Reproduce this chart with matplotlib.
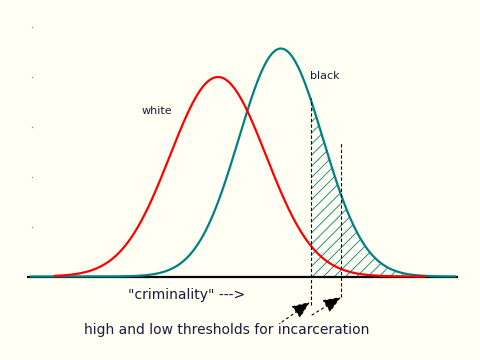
import numpy as np
import matplotlib
matplotlib.use('Agg')
import matplotlib.pyplot as plt

# two normal curves, same area (white: mean 0, sd 1; black shifted right, narrower)
groups = ['white', 'black']
means = [0.0, 1.31]
sds = [1.0, 0.875]
colors = ['#ff0000', '#008080']
x_ranges = [(-3.4, 4.3), (-3.9, 4.94)]
thresholds = [1.94, 2.56]
threshold_tops = [0.357, 0.269]
threshold_bottoms = [-0.057, -0.041]
y_dots = [0.1, 0.2, 0.3, 0.4, 0.5]

BG = '#fffff4'
plt.rcParams['hatch.linewidth'] = 0.6


def pdf(x, m, s):
    return np.exp(-0.5 * ((x - m) / s) ** 2) / (s * np.sqrt(2 * np.pi))


# pixel -> data helpers (baseline at y=276.5 px, 48 px per sd, 500 px per density unit)
def px(x):
    return (x - 218) / 48


def py(y):
    return (276.5 - y) / 500


fig = plt.figure(figsize=(4.8, 3.6), dpi=100, facecolor=BG)
ax = fig.add_axes([0, 0, 1, 1])
ax.set_facecolor(BG)
ax.set_xlim(px(0), px(480))
ax.set_ylim(py(360), py(0))
ax.axis('off')

# baseline
ax.plot([-3.98, 5.0], [0, 0], color='black', lw=1.6, solid_capstyle='butt', zorder=2)

# faint y tick dots
ax.plot([-3.875] * len(y_dots), y_dots, ls='none', marker='s', ms=0.9,
        color='#888888', mew=0)

# hatched tail of black curve above the high threshold
xs = np.linspace(thresholds[0], x_ranges[1][1], 300)
ax.fill_between(xs, 0, pdf(xs, means[1], sds[1]), facecolor='none',
                edgecolor=colors[1], hatch='///', lw=0, zorder=1)

# curves (black first, white on top)
for i in [1, 0]:
    xx = np.linspace(x_ranges[i][0], x_ranges[i][1], 500)
    ax.plot(xx, pdf(xx, means[i], sds[i]), color=colors[i], lw=1.6, zorder=3)

# threshold lines
for t, top, bot in zip(thresholds, threshold_tops, threshold_bottoms):
    ax.plot([t, t], [bot, top], color='black', lw=0.8, ls=(0, (3, 2)), zorder=4)

# arrows to the thresholds
tails = [(px(282), py(322)), (px(312), py(315))]
tips = [(px(310), py(302)), (px(341), py(297))]
for tail, tip in zip(tails, tips):
    ax.annotate('', xy=tip, xytext=tail,
                arrowprops=dict(arrowstyle='-|>,head_length=1.1,head_width=0.45',
                                color='black', lw=0.8, ls=(0, (2, 3)),
                                shrinkA=0, shrinkB=0))

txt = '#1a1a3a'
ax.text(px(142), py(111), 'white', fontsize=8, color=txt, va='center')
ax.text(px(310), py(76), 'black', fontsize=8, color=txt, va='center')
ax.text(px(128), py(295), '"criminality" --->', fontsize=10, color=txt, va='center')
ax.text(px(84), py(330), 'high and low thresholds for incarceration',
        fontsize=10, color=txt, va='center')

fig.savefig('out.png', dpi=100, facecolor=BG)
